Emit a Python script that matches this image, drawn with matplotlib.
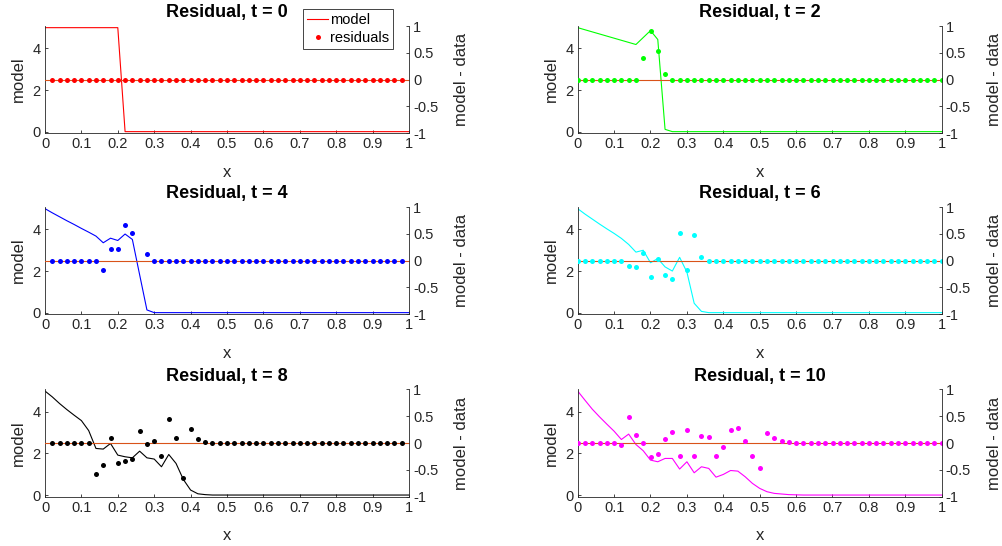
import numpy as np
import matplotlib
matplotlib.use("Agg")
import matplotlib.pyplot as plt

plt.rcParams['font.family'] = ['Liberation Sans', 'DejaVu Sans']

# --- data ---
times = [0, 2, 4, 6, 8, 10]
colors = ['#FF0000', '#00FF00', '#0000FF', '#00FFFF', '#000000', '#FF00FF']

# model curves: values on a 0.02 grid starting at x = 0, then flat zero to x = 1
model_t0_x = [0.0, 0.2, 0.22, 1.0]
model_t0 = [5.0, 5.0, 0.0, 0.0]
model_t2_x = [0.0, 0.16, 0.2, 0.22, 0.24, 0.26, 1.0]
model_t2 = [5.0, 4.19, 4.86, 4.43, 0.11, 0.0, 0.0]
model_t4 = [5.0, 4.8, 4.61, 4.42, 4.24, 4.05, 3.87, 3.68, 3.36, 3.58, 3.47,
            3.78, 3.52, 1.82, 0.13, 0.0]
model_t6 = [5.0, 4.74, 4.5, 4.26, 4.03, 3.81, 3.57, 3.28, 2.91, 3.0, 2.4,
            2.6, 2.2, 2.0, 2.66, 1.95, 0.45, 0.06, 0.0]
model_t8 = [5.0, 4.72, 4.4, 4.11, 3.84, 3.58, 3.1, 2.24, 2.21, 2.48, 1.92,
            1.84, 1.79, 2.11, 1.79, 1.73, 1.36, 1.95, 1.52, 0.75, 0.24, 0.06,
            0.02, 0.0]
model_t10 = [5.0, 4.56, 4.13, 3.76, 3.41, 3.07, 2.67, 2.93, 2.43, 2.13, 1.68,
             1.6, 1.76, 1.76, 1.25, 1.6, 1.07, 1.36, 1.28, 0.86, 0.99, 1.18,
             1.15, 0.88, 0.56, 0.32, 0.16, 0.08, 0.05, 0.02, 0.01, 0.0]

# residuals (model - data); left column sampled 0.02..0.98, right column 0..1
res_t0 = [0.0] * 49
res_t2 = [0.0] * 9 + [0.41, 0.905, 0.54, 0.1] + [0.0] * 38
res_t4 = [0.0] * 7 + [-0.175, 0.225, 0.225, 0.656, 0.51, np.nan, 0.12] + [0.0] * 35
res_t6 = ([0.0] * 7 + [-0.094, -0.125, 0.144, -0.31, 0.0375, -0.265, -0.34,
                       0.51, -0.17, 0.485, 0.07] + [0.0] * 33)
res_t8 = ([0.0] * 6 + [-0.58, -0.41, 0.097, -0.37, -0.33, -0.29, 0.222, -0.02,
                       0.044, -0.244, 0.456, 0.097, -0.65, 0.258, 0.078, 0.022]
          + [0.0] * 27)
res_t10 = ([0.0] * 6 + [-0.044, 0.478, 0.144, 0.0, -0.265, -0.21, 0.075, 0.215,
                        -0.245, 0.245, -0.235, 0.1375, 0.11, -0.245, -0.075,
                        0.25, 0.273, 0.044, -0.245, -0.465, 0.19, 0.09, 0.044,
                        0.025, 0.01] + [0.0] * 20)


def grid_curve(vals):
    x = list(np.round(np.arange(len(vals)) * 0.02, 2)) + [1.0]
    return x, list(vals) + [0.0]


def res_x(vals, start):
    return np.round(start + np.arange(len(vals)) * 0.02, 2)


models = [
    (model_t0_x, model_t0),
    (model_t2_x, model_t2),
    grid_curve(model_t4),
    grid_curve(model_t6),
    grid_curve(model_t8),
    grid_curve(model_t10),
]
residuals = [res_t0, res_t2, res_t4, res_t6, res_t8, res_t10]

W, H = 1003, 546
fig = plt.figure(figsize=(W / 100, H / 100), dpi=100)

lefts = [45 / W, 577.7 / W]
bottoms = [1 - 133.3 / H, 1 - 314.3 / H, 1 - 496.7 / H]
aw, ah = 364 / W, 107.3 / H
axc = '#262626'
zero_c = '#D95319'

xt = np.round(np.arange(0, 1.01, 0.1), 1)
xtl = ['%g' % v for v in xt]

for i, t in enumerate(times):
    row, col = i // 2, i % 2
    c = colors[i]
    ax = fig.add_axes([lefts[col], bottoms[row], aw, ah])
    mx, my = models[i]
    ax.plot(mx, my, color=c, lw=0.8, label='model')
    ax.set_xlim(0, 1)
    ax.set_ylim(-0.08, 5.08)
    ax.set_yticks([0, 2, 4])
    ax.set_xticks(xt)
    ax.set_xticklabels(xtl)

    ax2 = ax.twinx()
    ax2.set_ylim(-1, 1)
    ax2.set_yticks([-1, -0.5, 0, 0.5, 1])
    ax2.set_yticklabels(['-1', '-0.5', '0', '0.5', '1'])
    ax2.axhline(0, color=zero_c, lw=0.8)
    rv = residuals[i]
    start = 0.02 if col == 0 else 0.0
    pts, = ax2.plot(res_x(rv, start), rv, 'o', color=c, ms=3.6, mew=0,
                    label='residuals')

    for a in (ax, ax2):
        a.spines['top'].set_visible(False)
        for s in a.spines.values():
            s.set_color(axc)
            s.set_linewidth(0.6)
        a.tick_params(direction='in', length=2.5, width=0.6, colors=axc,
                      labelsize=10.5, pad=3)
    ax.spines['right'].set_visible(False)
    ax2.spines['left'].set_visible(False)
    ax2.spines['bottom'].set_visible(False)

    ax.set_title('Residual, t = %d' % t, fontweight='bold', fontsize=13,
                 pad=6.3, color='black')
    ax.set_xlabel('x', fontsize=12, va='center', color=axc)
    ax.xaxis.set_label_coords(0.5, -39 / 107.3)
    ax.set_ylabel('model', fontsize=12, va='center', color=axc)
    ax.yaxis.set_label_coords(-26.7 / 364, 0.5)
    ax2.set_ylabel('model - data', fontsize=12, va='center', color=axc)
    ax2.yaxis.set_label_coords(1 + 52.7 / 364, 0.5)

    if i == 0:
        h1 = ax.get_lines()[0]
        leg = fig.legend([h1, pts], ['model', 'residuals'], loc='upper left',
                         bbox_to_anchor=(303 / W, 1 - 9 / H),
                         bbox_transform=fig.transFigure, fontsize=10.5,
                         handlelength=1.4, handletextpad=0.15, borderpad=0.3,
                         labelspacing=0.25, borderaxespad=0, fancybox=False,
                         framealpha=1, edgecolor=axc)
        leg.get_frame().set_linewidth(0.6)

fig.savefig('out.png', dpi=100)
